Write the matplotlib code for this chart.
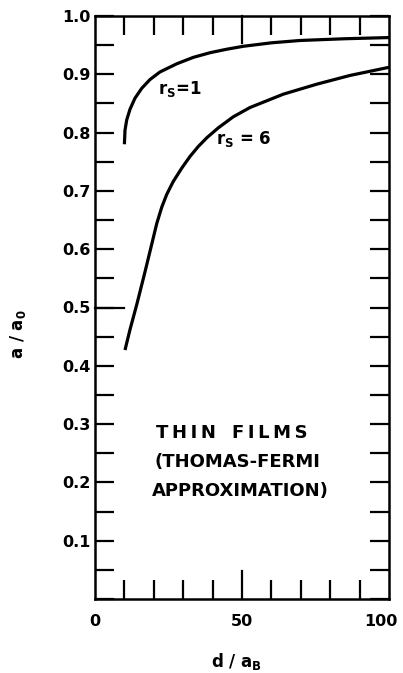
import matplotlib
matplotlib.use("Agg")
import matplotlib.pyplot as plt
from matplotlib.ticker import MultipleLocator
from matplotlib.transforms import ScaledTranslation

# data
d_rs1 = [10.0, 10.2, 10.8, 11.9, 13.6, 15.9, 18.7, 22.1, 27.8, 33.4, 39.1, 44.8, 50.4, 60.0, 69.7, 85.0, 100]
a_rs1 = [0.780, 0.804, 0.822, 0.840, 0.859, 0.876, 0.891, 0.904, 0.918, 0.929, 0.937, 0.943, 0.948, 0.954, 0.958, 0.961, 0.963]
d_rs6 = [10.2, 11.9, 14.2, 17.0, 19.8, 21.0, 22.7, 24.4, 26.6, 29.5, 32.3, 35.1, 38.0, 41.9, 47.0, 52.7, 64.1, 75.4, 86.7, 100]
a_rs6 = [0.427, 0.462, 0.505, 0.561, 0.619, 0.644, 0.672, 0.694, 0.716, 0.739, 0.759, 0.776, 0.791, 0.808, 0.827, 0.843, 0.866, 0.883, 0.898, 0.912]

x_ticks = [0, 50, 100]
y_ticks = [0.1, 0.2, 0.3, 0.4, 0.5, 0.6, 0.7, 0.8, 0.9, 1.0]
y_ticklabels = ['0.1', '0.2', '0.3', '0.4', '0.5', '0.6', '0.7', '0.8', '0.9', '1.0']

plt.rcParams['font.family'] = ['DejaVu Sans']
plt.rcParams['font.weight'] = 'bold'

fig = plt.figure(figsize=(4.03, 6.73), dpi=100)
W, H = 403, 673
ax = fig.add_axes([95 / W, 1 - 599 / H, 294 / W, 583 / H])

ax.plot(d_rs1, a_rs1, color='black', lw=2.3, solid_capstyle='butt', solid_joinstyle='round')
ax.plot(d_rs6, a_rs6, color='black', lw=2.3, solid_capstyle='butt', solid_joinstyle='round')

ax.set_xlim(0, 100)
ax.set_ylim(0, 1.0)
ax.set_xticks(x_ticks)
ax.set_yticks(y_ticks)
ax.set_yticklabels(y_ticklabels)
ax.xaxis.set_minor_locator(MultipleLocator(10))
ax.yaxis.set_minor_locator(MultipleLocator(0.05))
ax.tick_params(which='both', direction='in', top=True, right=True, width=1.6,
               labelsize=11.5)
ax.tick_params(which='both', length=14)
ax.tick_params(axis='x', which='major', length=0, pad=11)
ax.tick_params(axis='y', which='major', pad=3)
for lbl in ax.get_xticklabels() + ax.get_yticklabels():
    lbl.set_fontweight('bold')
# shift the "100" label a bit left, as in the reference
xl = ax.get_xticklabels()
xl[-1].set_transform(xl[-1].get_transform() + ScaledTranslation(-8 / 100, 0, fig.dpi_scale_trans))

# long ticks at midpoints
ax.plot([50, 50], [0, 0.048], color='black', lw=1.6, clip_on=False)
ax.plot([50, 50], [1.0, 0.953], color='black', lw=1.6, clip_on=False)
ax.plot([0, 10], [0.5, 0.5], color='black', lw=1.6, clip_on=False)
for s in ax.spines.values():
    s.set_linewidth(1.8)

fig.text(237 / W, 1 - 662 / H, r'd / a$_\mathregular{B}$', fontsize=12, fontweight='bold',
         ha='center', va='center')
fig.text(18 / W, 1 - 334 / H, r'a / a$_\mathregular{0}$', fontsize=12, fontweight='bold',
         ha='center', va='center', rotation=90)

ax.text(21.5, 0.866, r'r$_\mathregular{S}$=1', fontsize=12, fontweight='bold')
ax.text(41, 0.78, r'r$_\mathregular{S}$ = 6', fontsize=12, fontweight='bold')

ax.text(46.5, 0.285, 'T\u2009H\u2009I\u2009N\u2009  F\u2009I\u2009L\u2009M\u2009S', fontsize=13,
        fontweight='bold', ha='center', va='center')
ax.text(48.5, 0.235, '(THOMAS-FERMI', fontsize=13, fontweight='bold', ha='center', va='center')
ax.text(49.5, 0.185, 'APPROXIMATION)', fontsize=13, fontweight='bold', ha='center', va='center')

fig.savefig('out.png', dpi=100)
